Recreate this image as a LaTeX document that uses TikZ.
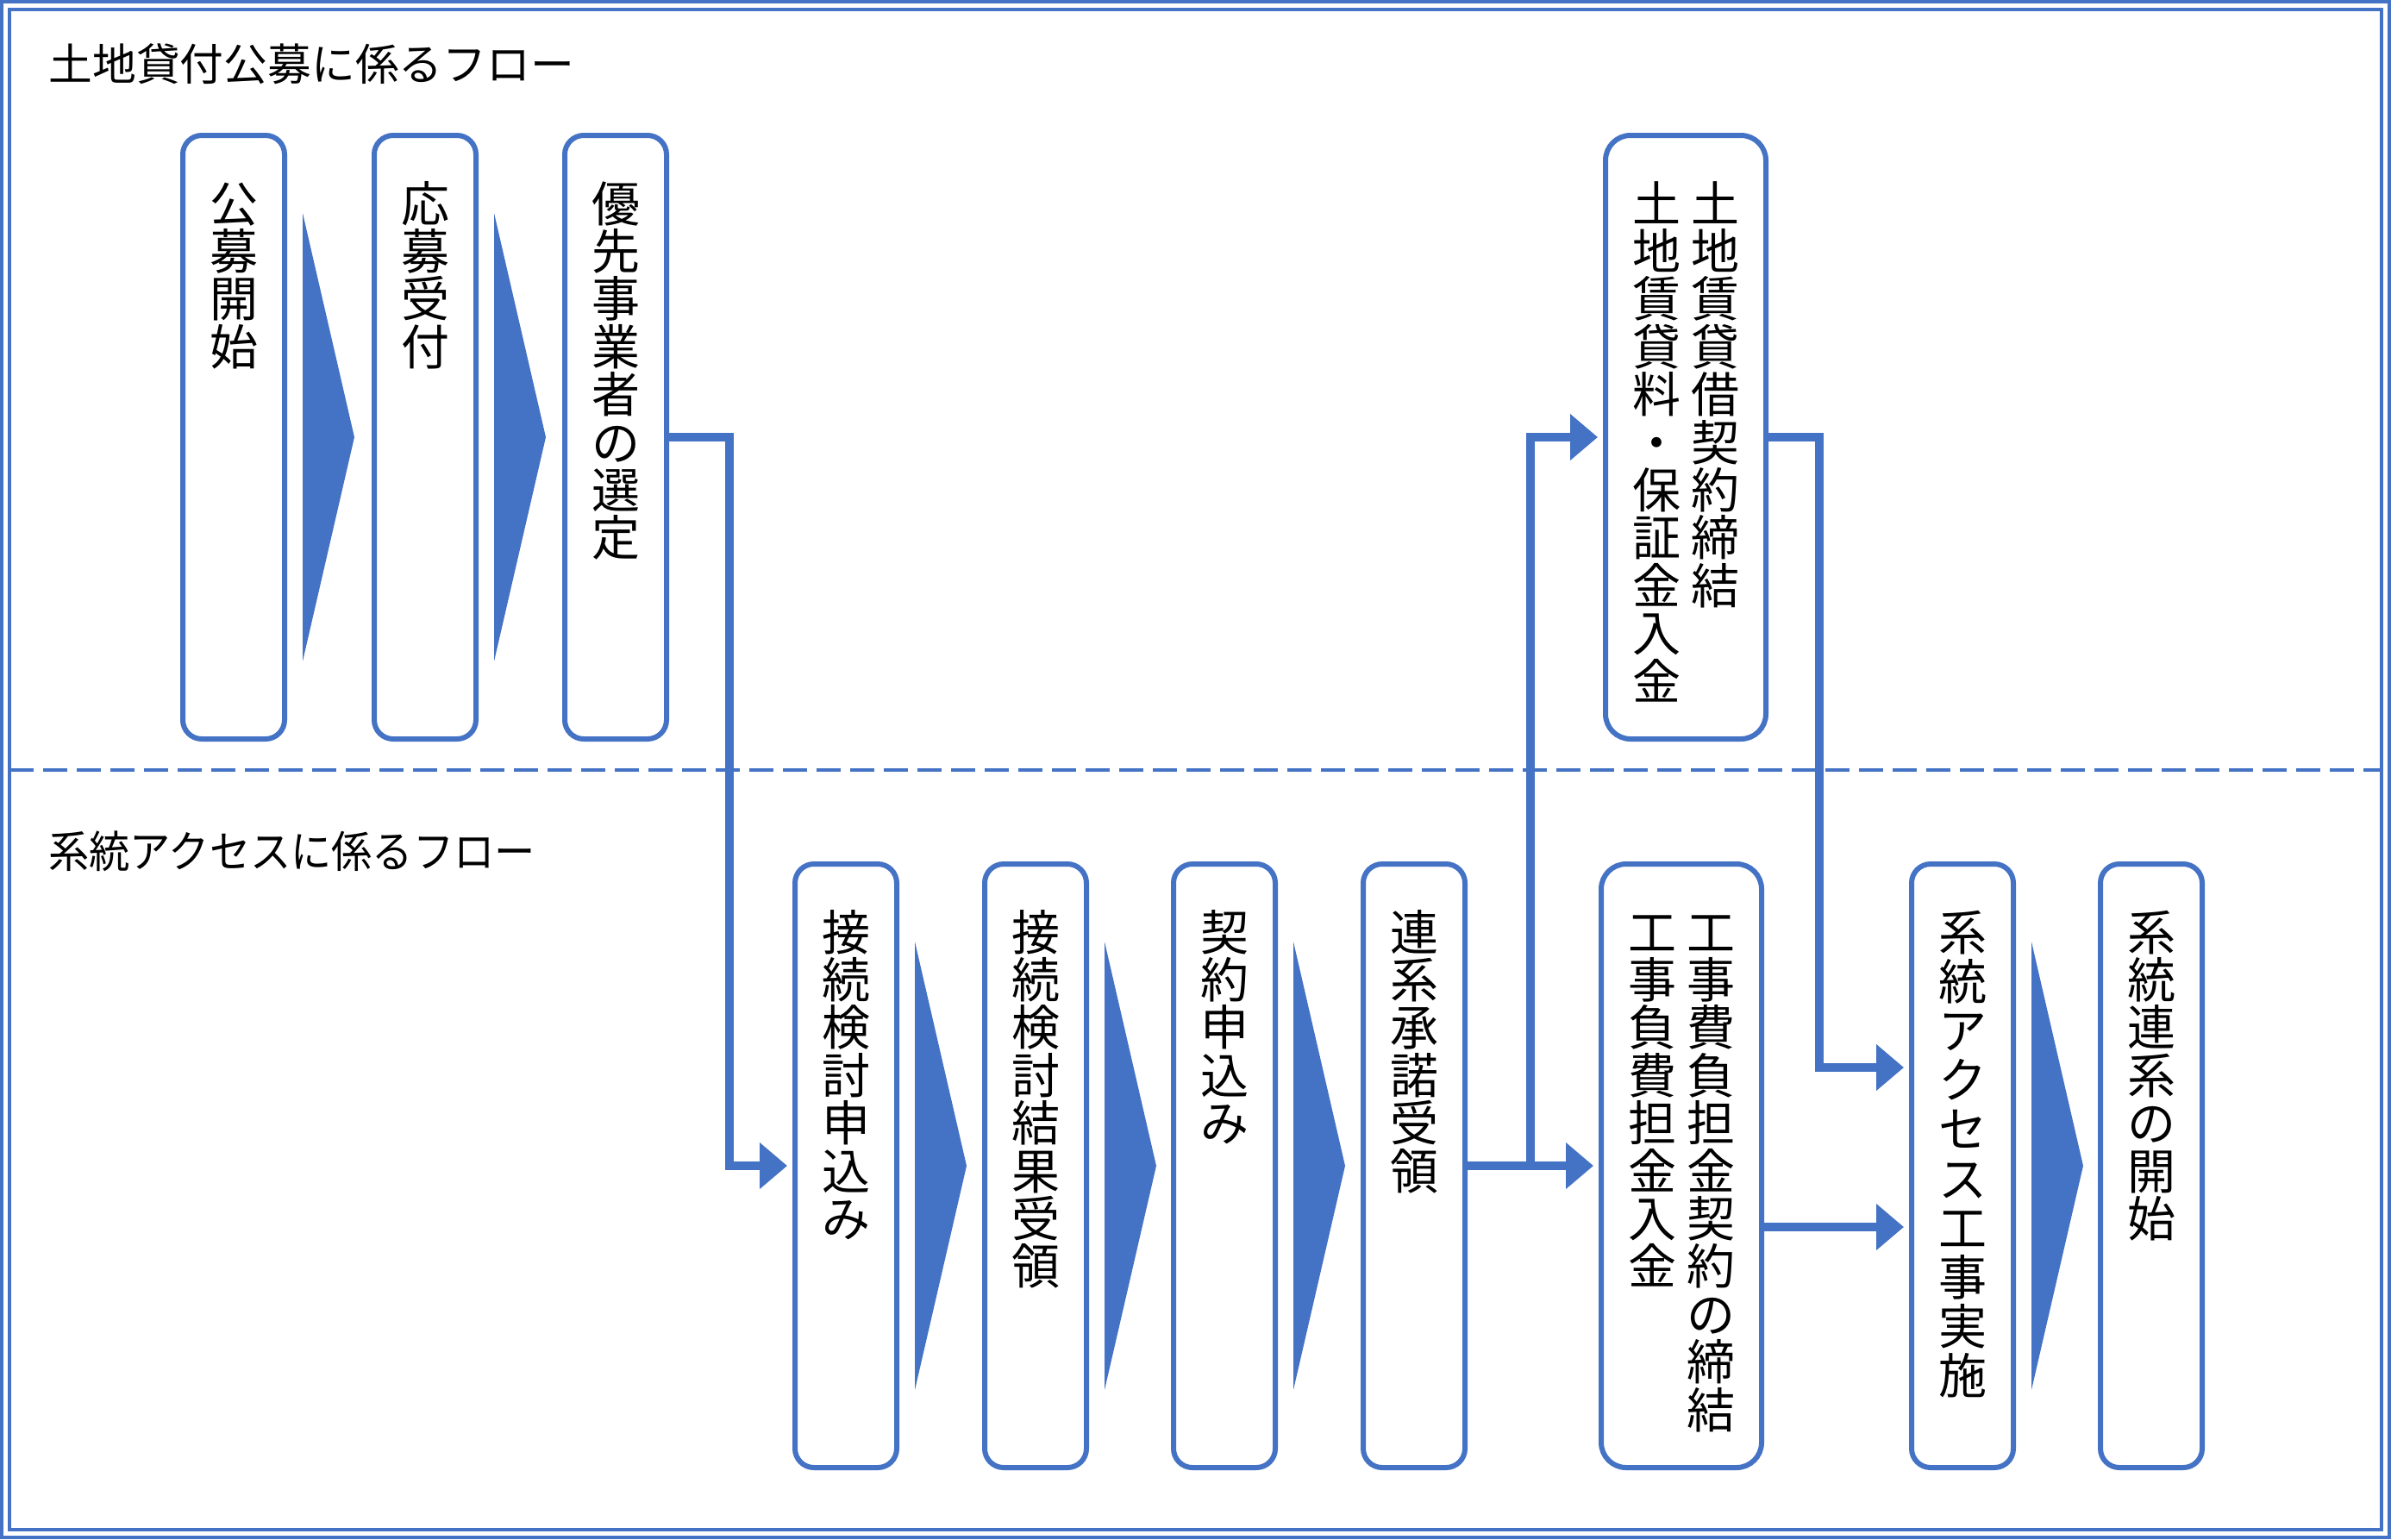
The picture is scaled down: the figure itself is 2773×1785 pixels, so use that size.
\documentclass[tikz,border=0pt]{standalone}
\usepackage{fontspec}
\setmainfont{Noto Sans CJK JP}
\usepackage{graphicx}
\usetikzlibrary{arrows.meta,calc}
\definecolor{acc}{HTML}{4472C4}
\newcommand{\boxfont}{\fontsize{28pt}{27.7pt}\selectfont\lineskiplimit=-30pt\relax}
\newcommand{\boxfontw}{\fontsize{28pt}{28.6pt}\selectfont\lineskiplimit=-30pt\relax}
\newcommand{\titlefont}{\fontsize{25.4pt}{30pt}\selectfont}
\newcommand{\vcol}[1]{\parbox[t]{30pt}{\centering #1}}
\newcommand{\chevafter}[1]{\fill[acc] ([shift={(10.5pt,-45pt)}]#1.north east) -- ([shift={(10.5pt,45pt)}]#1.south east) -- ([xshift=40.5pt]#1.east) -- cycle;}
\begin{document}
\begin{tikzpicture}[x=0.5pt,y=-0.5pt,
  boxn/.style={draw=acc, line width=3pt, rounded corners=11pt, minimum width=59pt, minimum height=350pt, inner sep=0pt, outer sep=0pt, fill=white},
  boxw/.style={boxn, rounded corners=14.5pt, minimum width=93pt},
  conn/.style={draw=acc, line width=5pt, -{Triangle[length=16pt,width=26pt]}, shorten >=4.5pt},
  vtxt/.style={anchor=base, inner sep=0pt, font=\boxfont},
  ttl/.style={anchor=west, inner sep=0pt, font=\titlefont}]
\useasboundingbox (0,0) rectangle (2773,1785);
% frame
\draw[acc,line width=2pt] (2,2) rectangle (2771,1783);
\draw[acc,line width=1.75pt] (11,11) rectangle (2762,1774);
\draw[acc,line width=1.75pt,dash pattern=on 14pt off 5.5pt] (11,893) -- (2762,893);
% titles
\node[ttl] (title1) at (56,74) {土地貸付公募に係るフロー};
\node[ttl] (title2) at (56,987) {\scalebox{0.93}[1]{系統アクセスに係るフロー}};
% top row boxes
\node[boxn] (b1) at (271,507) {};
\node[boxn] (b2) at (493,507) {};
\node[boxn] (b3) at (714,507) {};
\node[boxw] (tb) at (1955,507) {};
% bottom row boxes
\node[boxn] (b4) at (981,1352) {};
\node[boxn] (b5) at (1201,1352) {};
\node[boxn] (b6) at (1420,1352) {};
\node[boxn] (b7) at (1640,1352) {};
\node[boxw] (b8) at (1950,1352) {};
\node[boxn] (b9) at (2276,1352) {};
\node[boxn] (b10) at (2495,1352) {};
% texts
\node[vtxt] (t1) at ([yshift=-50pt]b1.north) {\vcol{公\\募\\開\\始}};
\node[vtxt] (t2) at ([yshift=-50pt]b2.north) {\vcol{応\\募\\受\\付}};
\node[vtxt] (t3) at ([yshift=-50pt]b3.north) {\vcol{優\\先\\事\\業\\者\\の\\選\\定}};
\node[vtxt] (tt) at ([yshift=-50pt]tb.north) {\vcol{土\\地\\賃\\貸\\料\\・\\保\\証\\金\\入\\金}\hspace{4pt}\vcol{土\\地\\賃\\貸\\借\\契\\約\\締\\結}};
\node[vtxt] (t4) at ([yshift=-50pt]b4.north) {\vcol{接\\続\\検\\討\\申\\込\\み}};
\node[vtxt] (t5) at ([yshift=-50pt]b5.north) {\vcol{接\\続\\検\\討\\結\\果\\受\\領}};
\node[vtxt] (t6) at ([yshift=-50pt]b6.north) {\vcol{契\\約\\申\\込\\み}};
\node[vtxt] (t7) at ([yshift=-50pt]b7.north) {\vcol{連\\系\\承\\諾\\受\\領}};
\node[vtxt] (t8) at ([yshift=-50pt]b8.north) {\vcol{工\\事\\負\\費\\担\\金\\入\\金}\hspace{4pt}\vcol{工\\事\\費\\負\\担\\金\\契\\約\\の\\締\\結}};
\node[vtxt,font=\boxfontw] (t9) at ([yshift=-50pt]b9.north) {\vcol{系\\統\\ア\\ク\\セ\\ス\\工\\事\\実\\施}};
\node[vtxt] (t10) at ([yshift=-50pt]b10.north) {\vcol{系\\統\\連\\系\\の\\開\\始}};
% chevrons
\chevafter{b1}
\chevafter{b2}
\chevafter{b4}
\chevafter{b5}
\chevafter{b6}
\chevafter{b9}
% connectors
\draw[conn] (b3.east) -| ([xshift=-38pt]b4.west) -- (b4.west);
\draw[conn] (b7.east) -- (b8.west);
\draw[conn] ([xshift=38pt]b7.east) |- (tb.west);
\draw[conn] (tb.east) -- ++(31pt,0) |- ([yshift=57pt]b9.west);
\draw[conn] ([yshift=-35.5pt]b8.east) -- ([yshift=-35.5pt]b9.west);
\end{tikzpicture}
\end{document}
